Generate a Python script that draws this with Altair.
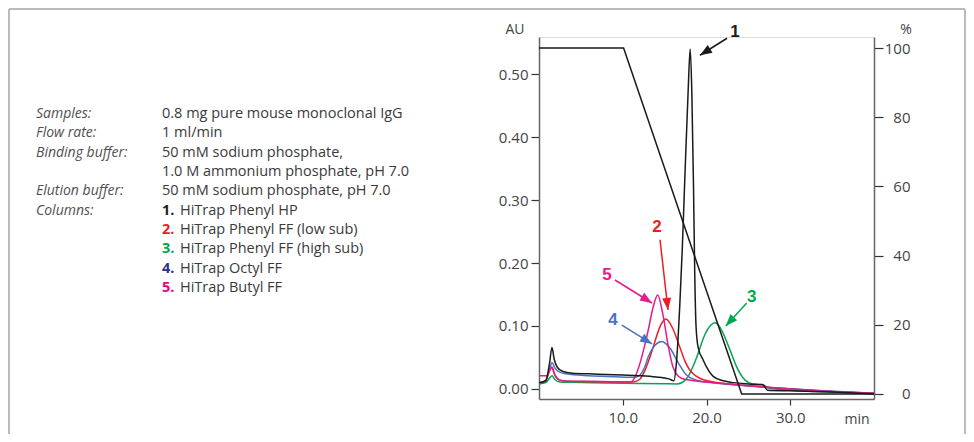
import math
import altair as alt
import pandas as pd

# ---------------- data ----------------
# 1. HiTrap Phenyl HP (black)
t1 = [0.0, 0.8, 1.25, 1.55, 1.8, 2.2, 2.8, 4.0, 6.0, 8.0, 10.0, 12.0, 14.0, 15.5, 16.1,
      16.4, 16.8, 17.1, 17.4, 17.8, 18.05, 18.25, 18.45, 18.6, 18.75, 19.0, 19.6, 20.0,
      20.8, 22.0, 23.2, 25.0, 26.7, 27.3, 30.0, 35.0, 40.0]
a1 = [0.010, 0.013, 0.040, 0.066, 0.048, 0.034, 0.028, 0.025, 0.024, 0.023, 0.022, 0.021,
      0.019, 0.016, 0.013, 0.040, 0.130, 0.220, 0.330, 0.470, 0.540, 0.470, 0.320, 0.180,
      0.100, 0.066, 0.046, 0.035, 0.020, 0.013, 0.010, 0.008, 0.007, -0.002, -0.003,
      -0.005, -0.008]
# 2. HiTrap Phenyl FF (low sub) (red)
t2 = [0.0, 0.8, 1.2, 1.5, 1.9, 2.5, 3.5, 6.0, 9.0, 11.2, 12.0, 12.5, 13.1, 13.65, 14.45,
      15.15, 15.9, 16.8, 17.4, 18.0, 18.6, 19.2, 20.5, 22.0, 25.0, 30.0, 35.0, 40.0]
a2 = [0.009, 0.012, 0.028, 0.034, 0.022, 0.014, 0.012, 0.0115, 0.011, 0.011, 0.015, 0.025,
      0.045, 0.067, 0.099, 0.111, 0.098, 0.067, 0.045, 0.030, 0.022, 0.017, 0.012, 0.009,
      0.005, 0.000, -0.004, -0.007]
# 3. HiTrap Phenyl FF (high sub) (green)
t3 = [0.0, 0.8, 1.25, 1.55, 1.9, 2.5, 4.0, 8.0, 12.0, 16.5, 17.2, 17.8, 18.8, 19.8, 20.5,
      21.0, 21.5, 22.0, 22.8, 23.6, 24.6, 25.5, 26.8, 27.5, 30.0, 35.0, 40.0]
a3 = [0.008, 0.010, 0.017, 0.021, 0.015, 0.011, 0.0105, 0.0095, 0.0085, 0.008, 0.011,
      0.0195, 0.049, 0.086, 0.101, 0.105, 0.100, 0.088, 0.062, 0.035, 0.014, 0.008, 0.006,
      0.001, -0.002, -0.005, -0.007]
# 4. HiTrap Octyl FF (blue)
t4 = [0.0, 0.8, 1.25, 1.55, 1.9, 2.4, 3.2, 6.0, 9.0, 11.5, 12.06, 12.6, 13.05, 13.85,
      14.65, 15.65, 16.65, 17.6, 18.8, 20.5, 24.0, 28.0, 34.0, 40.0]
a4 = [0.009, 0.013, 0.030, 0.042, 0.033, 0.027, 0.024, 0.021, 0.0195, 0.0185, 0.022,
      0.034, 0.051, 0.0695, 0.0755, 0.0646, 0.041, 0.022, 0.014, 0.010, 0.006, 0.002,
      -0.003, -0.007]
# 5. HiTrap Butyl FF (magenta)
t5 = [0.0, 1.0, 1.3, 1.55, 1.9, 2.5, 3.5, 6.0, 9.0, 11.0, 11.5, 12.06, 12.6, 13.05, 13.65,
      14.17, 14.77, 15.45, 16.0, 17.0, 18.5, 20.0, 23.0, 27.0, 32.0, 40.0]
a5 = [0.021, 0.021, 0.030, 0.035, 0.022, 0.014, 0.012, 0.012, 0.0115, 0.0115, 0.020,
      0.041, 0.068, 0.094, 0.131, 0.149, 0.120, 0.067, 0.035, 0.017, 0.013, 0.011, 0.007,
      0.003, -0.002, -0.007]

# gradient (% elution buffer)
grad_t = [0.0, 10.1, 24.2, 40.0]
grad_p = [100, 100, 0, 0]

series_order = ["3", "2", "4", "5", "1"]
series_colors = ["#00a651", "#ed1c24", "#4a72c0", "#e8198b", "#1a1a1a"]

# arrow annotations (data units)
arrow_series = ["1", "2", "3", "4", "5"]
arrow_tail_t = [22.45, 14.45, 24.8, 9.9, 9.07]
arrow_tail_au = [0.557, 0.237, 0.1365, 0.1015, 0.173]
arrow_head_t = [19.22, 15.4, 22.3, 13.5, 13.5]
arrow_head_au = [0.530, 0.1254, 0.100, 0.0714, 0.1365]
label_t = [23.4, 14.1, 25.4, 8.84, 8.12]
label_au = [0.567, 0.257, 0.146, 0.1095, 0.181]

# info block
info_labels = ["Samples:", "Flow rate:", "Binding buffer:", "Elution buffer:", "Columns:"]
info_label_rows = [0, 1, 2, 4, 5]
info_values = ["0.8 mg pure mouse monoclonal IgG", "1 ml/min", "50 mM sodium phosphate,",
               "1.0 M ammonium phosphate, pH 7.0", "50 mM sodium phosphate, pH 7.0"]
info_value_rows = [0, 1, 2, 3, 4]
column_nums = ["1.", "2.", "3.", "4.", "5."]
column_names = ["HiTrap Phenyl HP", "HiTrap Phenyl FF (low sub)",
                "HiTrap Phenyl FF (high sub)", "HiTrap Octyl FF", "HiTrap Butyl FF"]
column_num_colors = ["#231f20", "#ed1c24", "#00a651", "#2e3192", "#ec008c"]

# ---------------- layout ----------------
W, H = 335, 362
X_DOM = [0, 40]
Y_DOM = [-0.016, 0.559]
P_DOM = [-1.45, 103.2]
FONT = "Open Sans"
TXT = "#3a3a3a"

curves = {"1": (t1, a1), "2": (t2, a2), "3": (t3, a3), "4": (t4, a4), "5": (t5, a5)}
rows = []
for s in series_order:
    tt, aa = curves[s]
    for i, (ti, ai) in enumerate(zip(tt, aa)):
        rows.append({"series": s, "t": ti, "au": ai, "i": i})
df = pd.DataFrame(rows)

px_t = W / (X_DOM[1] - X_DOM[0])
px_a = H / (Y_DOM[1] - Y_DOM[0])
angles = []
for k in range(len(arrow_series)):
    dx = (arrow_head_t[k] - arrow_tail_t[k]) * px_t
    dy = -(arrow_head_au[k] - arrow_tail_au[k]) * px_a
    angles.append(math.degrees(math.atan2(dx, -dy)) % 360)
adf = pd.DataFrame({
    "series": arrow_series, "t0": arrow_tail_t, "a0": arrow_tail_au,
    "t1": arrow_head_t, "a1": arrow_head_au, "lt": label_t, "la": label_au,
    "ang": angles,
})
gdf = pd.DataFrame({"t": grad_t, "p": grad_p})

xs = alt.Scale(domain=X_DOM, nice=False, zero=False)
ys = alt.Scale(domain=Y_DOM, nice=False, zero=False)
ps = alt.Scale(domain=P_DOM, nice=False, zero=False)
cs = alt.Scale(domain=series_order, range=series_colors)

axis_common = dict(grid=False, title=None, labelFont=FONT, labelFontSize=15,
                   labelColor="#444", domainColor="#666", domainWidth=1.5,
                   tickColor="#333", tickWidth=1.2)

x_axis = alt.Axis(values=[10, 20, 30], format=".1f", tickSize=6, labelPadding=5,
                  **axis_common)
y_axis = alt.Axis(values=[0, 0.1, 0.2, 0.3, 0.4, 0.5], format=".2f", tickSize=8,
                  labelPadding=3, **axis_common)
p_axis = alt.Axis(orient="right", values=[0, 20, 40, 60, 80, 100], format="d",
                  tickSize=9, labelAlign="right", labelPadding=27, **axis_common)

line_layer = alt.Chart(df).mark_line(interpolate="monotone", strokeWidth=1.5).encode(
    x=alt.X("t:Q", scale=xs, axis=x_axis),
    y=alt.Y("au:Q", scale=ys, axis=y_axis),
    color=alt.Color("series:N", scale=cs, legend=None),
    order="i:Q",
)
rule_layer = alt.Chart(adf).mark_rule(strokeWidth=1.5).encode(
    x=alt.X("t0:Q", scale=xs), y=alt.Y("a0:Q", scale=ys),
    x2="t1:Q", y2="a1:Q",
    color=alt.Color("series:N", scale=cs, legend=None),
)
head_layer = alt.Chart(adf).mark_point(
    filled=True, opacity=1, size=144, shape="M0,0L-0.75,2L0.75,2Z", strokeWidth=0
).encode(
    x=alt.X("t1:Q", scale=xs), y=alt.Y("a1:Q", scale=ys),
    angle=alt.Angle("ang:Q", scale=None),
    color=alt.Color("series:N", scale=cs, legend=None),
)
label_layer = alt.Chart(adf).mark_text(
    font="Liberation Sans", fontSize=17, fontWeight="bold", baseline="middle", align="center"
).encode(
    x=alt.X("lt:Q", scale=xs), y=alt.Y("la:Q", scale=ys), text="series:N",
    color=alt.Color("series:N", scale=cs, legend=None),
)
left_group = alt.layer(line_layer, rule_layer, head_layer, label_layer)

grad_layer = alt.Chart(gdf).mark_line(color="#1a1a1a", strokeWidth=1.5).encode(
    x=alt.X("t:Q", scale=xs),
    y=alt.Y("p:Q", scale=ps, axis=p_axis),
)

one = pd.DataFrame({"v": [0]})


def text_mark(s, x, y, **kw):
    opts = dict(font=FONT, fontSize=14.5, color=TXT, align="left", baseline="middle")
    opts.update(kw)
    return alt.Chart(one).mark_text(text=s, **opts).encode(x=alt.value(x), y=alt.value(y))


ROW0, ROWH = 77, 19.35
LX, VX, NX = -503, -377, -359
extras = []
for s, r in zip(info_labels, info_label_rows):
    extras.append(text_mark(s, LX, ROW0 + r * ROWH, fontStyle="italic", color="#505050",
                            fontSize=14))
for s, r in zip(info_values, info_value_rows):
    extras.append(text_mark(s, VX, ROW0 + r * ROWH))
for k, (n, name, col) in enumerate(zip(column_nums, column_names, column_num_colors)):
    yy = ROW0 + (5 + k) * ROWH
    extras.append(text_mark(n, VX, yy, fontWeight="bold", color=col))
    extras.append(text_mark(name, NX, yy))

extras.append(text_mark("AU", -24, -7, align="center", fontSize=14, color="#444"))
extras.append(text_mark("%", 367, -7, align="center", fontSize=14, color="#444"))
extras.append(text_mark("min", 318, 383, align="center", fontSize=14, color="#444"))

# frame
frame_col = "#bbbbbb"
extras.append(alt.Chart(one).mark_rule(color=frame_col, strokeWidth=2).encode(
    x=alt.value(-530), x2=alt.value(426), y=alt.value(-28), y2=alt.value(-28)))
extras.append(alt.Chart(one).mark_rule(color=frame_col, strokeWidth=2).encode(
    x=alt.value(-530), x2=alt.value(-530), y=alt.value(-28), y2=alt.value(420)))
extras.append(alt.Chart(one).mark_rule(color=frame_col, strokeWidth=2).encode(
    x=alt.value(426), x2=alt.value(426), y=alt.value(-28), y2=alt.value(420)))

chart = alt.layer(left_group, grad_layer, *extras).resolve_scale(y="independent").properties(
    width=W, height=H,
    padding={"left": 531, "top": 29, "right": 92, "bottom": 35},
    autosize=alt.AutoSizeParams(type="none"),
).configure_view(stroke=None).configure(background="white")

chart.save("out.html", embed_options={"renderer": "svg", "actions": False})
